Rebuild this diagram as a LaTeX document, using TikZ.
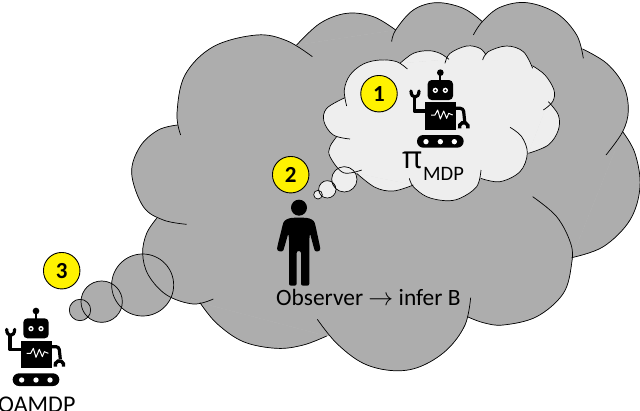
\documentclass[tikz,border=0pt]{standalone}
\usepackage{fontspec}
\setmainfont{Carlito}
\newfontfamily\pifont{Open Sans}
\definecolor{biggray}{RGB}{173,173,173}
\definecolor{palegray}{RGB}{238,238,238}
\tikzset{
  x=1pt,y=-1pt,
  cloudline/.style={draw=black,line width=0.7pt},
  cloudfill/.style={fill=cfill,draw=cfill,line width=0.4pt},
  badge/.style={circle,draw=black,line width=0.9pt,fill=yellow,minimum size=36.5pt,inner sep=0pt,font=\fontsize{23}{23}\selectfont\bfseries},
  label/.style={inner sep=0pt,anchor=base west,text=black},
  zoomed/.style={x=0.33333pt,y=-0.33333pt},
  robot/.pic={
    \begin{scope}[zoomed]
      \fill (108,33) circle (10);
      \draw[line width=2pt] (108,33) -- (108,58);
      \fill[rounded corners=4pt] (70,55) rectangle (146,115);
      \fill[white] (93,86) circle (8) (123,86) circle (8);
      \fill (93,86) circle (3.5) (123,86) circle (3.5);
      \fill (62,122) rectangle (155,205);
      \draw[white,line width=1pt,line join=round] (80,160) -- (92,160) -- (100,145) -- (108,172) -- (118,148) -- (127,170) -- (133,155) -- (145,160);
      \draw[line width=3.6pt,line join=round] (62,148) -- (30,148) -- (30,105);
      \draw[line width=3.2pt,line cap=round] (20,88) .. controls (20,112) and (44,112) .. (44,88);
      \draw[line width=3.2pt,rounded corners=3pt] (155,140) -- (177,140) -- (181,178);
      \draw[line width=3.4pt] (166,200) arc (160:380:13);
      \fill[rounded corners=6.3pt] (38,220) rectangle (178,258);
      \fill[white] (65,240) circle (8) (108,240) circle (8) (150,240) circle (8);
    \end{scope}
  }
}
\newcommand\filllobe[1]{\path[cloudfill] plot[smooth,tension=.6] coordinates {#1} -- cycle;}
\newcommand\drawlobe[1]{\draw[cloudline] plot[smooth,tension=.6] coordinates {#1};}
\newcommand\biglobes{%
  \lobe{(152,405) (141,340) (165,225) (250,140) (380,105) (470,122) (547,170)}
  \lobe{(500,135) (570,70) (650,40) (730,50) (797,90)}
  \lobe{(785,125) (797,90) (850,30) (920,8) (1000,25) (1057,65)}
  \lobe{(1030,105) (1057,65) (1110,22) (1190,8) (1280,40) (1340,105) (1360,175)}
  \lobe{(1358,147) (1430,190) (1480,255) (1495,330) (1478,395) (1428,465)}
  \lobe{(1478,395) (1515,460) (1530,560) (1500,660) (1420,740) (1325,773)}
  \lobe{(1208,590) (1280,650) (1322,730) (1325,790) (1300,880) (1220,950) (1120,975) (1060,968) (1012,950)}
  \lobe{(1022,893) (1005,975) (950,1050) (870,1100) (790,1112) (700,1090) (620,1030) (562,958)}
  \lobe{(590,1008) (520,1035) (440,1045) (340,1025) (260,970) (210,908)}
  \lobe{(250,897) (190,912) (110,885) (55,825) (38,760) (50,700) (80,655)}
  \lobe{(170,673) (100,660) (40,620) (5,520) (30,440) (85,390) (143,375)}
}
\newcommand\smalllobes{%
  \lobe{(650,318) (643,270) (660,225) (700,192) (750,180) (800,185) (832,207)}
  \lobe{(810,190) (850,160) (895,152) (930,160) (957,178)}
  \lobe{(945,190) (960,160) (1010,138) (1050,145) (1068,165)}
  \lobe{(1058,180) (1075,155) (1130,138) (1180,155) (1208,205)}
  \lobe{(1207,197) (1245,225) (1272,270) (1268,305) (1240,330)}
  \lobe{(1255,305) (1285,345) (1285,390) (1255,435) (1195,460)}
  \lobe{(1140,382) (1175,410) (1192,460) (1170,515) (1110,545) (1052,535)}
  \lobe{(1053,510) (1040,560) (990,595) (945,602) (890,590) (850,560) (838,535)}
  \lobe{(850,555) (790,573) (735,562) (680,520)}
  \lobe{(695,510) (640,518) (600,470) (600,440) (620,410)}
  \lobe{(660,417) (610,405) (582,365) (590,325) (645,293)}
}
\begin{document}
\begin{tikzpicture}
\useasboundingbox (0,0) rectangle (640,410);
\clip (0,0) rectangle (640,410);
% big thought cloud
\begin{scope}[zoomed,xshift=130pt]
  \colorlet{cfill}{biggray}
  \path[cloudfill] (38,855) circle (93) (-85,905) circle (62) (-150,930) circle (32);
  \let\lobe\filllobe \biglobes
  \path[cloudfill] (143,375) -- (500,135) -- (797,90) -- (1057,65) -- (1358,147) -- (1478,395) -- (1325,773) -- (1012,950) -- (590,1008) -- (210,908) -- (80,655) -- cycle;
  \let\lobe\drawlobe \biglobes
  \draw[cloudline] (38,855) circle (93) (-85,905) circle (62) (-150,930) circle (32);
  % inner thought cloud
  \colorlet{cfill}{palegray}
  \path[cloudfill] (643,538) circle (38) (592,568) circle (26) (564,584) circle (13);
  \let\lobe\filllobe \smalllobes
  \path[cloudfill] (645,293) -- (810,190) -- (957,178) -- (1068,165) -- (1207,197) -- (1255,305) -- (1195,460) -- (1052,535) -- (850,555) -- (680,520) -- (620,410) -- cycle;
  \let\lobe\drawlobe \smalllobes
  \draw[cloudline] (643,538) circle (38) (592,568) circle (26) (564,584) circle (13);
\end{scope}
% robots
\pic at (0,300) {robot};
\pic at (404.33,61.67) {robot};
% observer
\begin{scope}[zoomed,xshift=270pt,yshift=-195pt]
  \fill (87,38) circle (24);
  \fill[rounded corners=2pt] (57,272) -- (57,130) -- (55,115) -- (42,160) .. controls (38,172) and (20,170) .. (22,155) -- (38,90) .. controls (42,75) and (55,70) .. (70,68) -- (104,68) .. controls (120,70) and (132,75) .. (136,90) -- (150,155) .. controls (152,170) and (136,172) .. (132,160) -- (120,115) -- (118,130) -- (118,272) -- (93,272) -- (93,168) -- (80,168) -- (80,272) -- cycle;
\end{scope}
% badges
\node[badge] (one) at (379,93.7) {1};
\node[badge] (two) at (290.7,174.7) {2};
\node[badge] (three) at (61.7,270.7) {3};
% labels
\node[label,font=\fontsize{23.4}{24}\selectfont] (obs) at (276,305) {Observer $\rightarrow$ infer B};
\node[label,font=\fontsize{31}{36}\selectfont\pifont] (pi) at (402,168) {π};
\node[label,font=\fontsize{20.5}{22}\selectfont] (mdp) at (423,180) {MDP};
\node[label,font=\fontsize{24}{24}\selectfont] (oamdp) at (-2,412) {OAMDP};
\end{tikzpicture}
\end{document}
